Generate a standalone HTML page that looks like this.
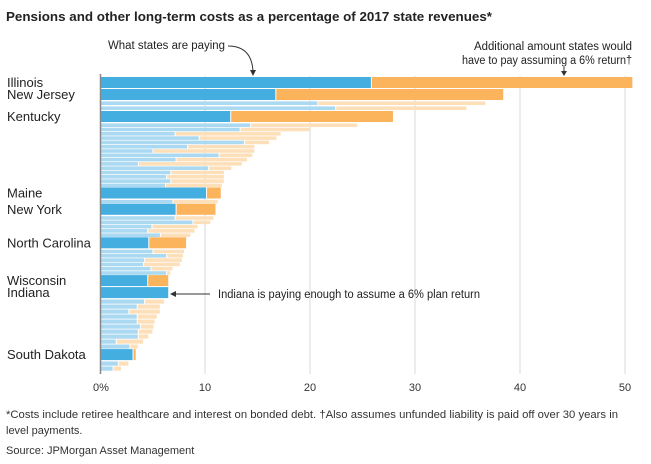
<!DOCTYPE html>
<html><head><meta charset="utf-8"><style>
body{margin:0;background:#fff;width:651px;height:464px;overflow:hidden;font-family:"Liberation Sans",sans-serif}
svg{display:block}
</style></head><body>
<svg id="chart" width="651" height="464" viewBox="0 0 651 464">
<text x="6" y="21" font-size="12.5" font-weight="bold" fill="#222" textLength="486" lengthAdjust="spacingAndGlyphs">Pensions and other long-term costs as a percentage of 2017 state revenues*</text>
<g id="grid"></g>
<g id="bars"></g>
<line x1="100.5" y1="74" x2="100.5" y2="374" stroke="#888" stroke-width="1.5"/>
<g id="labels" font-size="13" fill="#222"></g>
<g id="ticks" font-size="11" fill="#333" text-anchor="middle"></g>
<g font-size="11.5" fill="#222">
<text x="108" y="49" textLength="117" lengthAdjust="spacingAndGlyphs">What states are paying</text>
<path d="M228 46 Q252 46 253 72" fill="none" stroke="#333" stroke-width="1"/>
<path d="M250 70 L253 76 L256 70 Z" fill="#333"/>
</g>
<g font-size="11.5" fill="#222" text-anchor="end">
<text x="632" y="50" textLength="158" lengthAdjust="spacingAndGlyphs">Additional amount states would</text>
<text x="632" y="64" textLength="170" lengthAdjust="spacingAndGlyphs">have to pay assuming a 6% return†</text>
<line x1="564" y1="67" x2="564" y2="72" stroke="#333"/>
<path d="M561 71 L564 76 L567 71 Z" fill="#333"/>
</g>
<g font-size="11.5" fill="#222">
<text x="218" y="298" textLength="262" lengthAdjust="spacingAndGlyphs">Indiana is paying enough to assume a 6% plan return</text>
<line x1="210" y1="294" x2="174" y2="294" stroke="#333"/>
<path d="M176 291 L170 294 L176 297 Z" fill="#333"/>
</g>
<g font-size="11" fill="#333">
<text x="6" y="418" textLength="612" lengthAdjust="spacingAndGlyphs">*Costs include retiree healthcare and interest on bonded debt.  †Also assumes unfunded liability is paid off over 30 years in</text>
<text x="6" y="434">level payments.</text>
<text x="6" y="454">Source: JPMorgan Asset Management</text>
</g>
</svg>
<script>
const states=["Illinois","New Jersey","s3","s4","Kentucky","s6","s7","s8","s9","s10","s11","s12","s13","s14","s15","s16","s17","s18","s19","s20","Maine","s22","New York","s24","s25","s26","s27","s28","North Carolina","s30","s31","s32","s33","s34","s35","Wisconsin","Indiana","s38","s39","s40","s41","s42","s43","s44","s45","s46","s47","South Dakota","s49","s50"];
const highlighted=[1,1,0,0,1,0,0,0,0,0,0,0,0,0,0,0,0,0,0,0,1,0,1,0,0,0,0,0,1,0,0,0,0,0,0,1,1,0,0,0,0,0,0,0,0,0,0,1,0,0];
const paying=[25.8,16.7,20.7,22.4,12.4,14.3,13.3,7.1,9.4,13.7,8.3,5.0,11.3,7.2,3.6,10.3,6.7,6.3,6.7,6.2,10.1,6.9,7.2,7.1,8.8,4.9,4.5,5.7,4.6,5.0,6.3,4.2,4.1,4.8,6.3,4.5,6.5,4.2,3.5,2.7,3.5,3.5,3.8,3.6,3.6,1.5,2.8,3.1,1.7,1.2];
const total=[50.7,38.4,36.7,34.9,27.9,24.5,20.0,17.2,16.8,16.1,14.7,14.7,14.5,14.0,13.5,12.5,11.8,11.8,11.8,11.6,11.5,11.2,11.0,10.8,10.5,9.3,9.0,8.6,8.2,8.0,7.9,7.8,7.6,6.9,6.7,6.5,6.5,6.1,5.7,5.7,5.4,5.2,5.1,5.0,4.6,4.1,3.6,3.4,2.7,2.0];
const tickVals=[0,10,20,30,40,50];
const tickLabels=["0%","10","20","30","40","50"];
const NS="http://www.w3.org/2000/svg";
const x=v=>100+v*10.5;
function mk(tag,attrs,parent){const e=document.createElementNS(NS,tag);for(const k in attrs)e.setAttribute(k,attrs[k]);parent.appendChild(e);return e;}
const grid=document.getElementById('grid'),bars=document.getElementById('bars'),labels=document.getElementById('labels'),ticks=document.getElementById('ticks');
tickVals.forEach((t,i)=>{
 if(t>0){const g=mk('line',{x1:x(t),x2:x(t),y1:76,y2:374,stroke:'#e6e6e6','stroke-width':1.5},grid);
 
 }
 const tx=mk('text',{x:x(t)+(i==0?1:0),y:391},ticks);tx.textContent=tickLabels[i];
 
 
});
let y=77;
states.forEach((s,i)=>{
 const h=highlighted[i];
 const thinPitch=i>36?5.0:(i<4?5:4.3);
 const bh=h?11:(i>36?4.2:3.6);const pitch=h?12:thinPitch;
 const top=h?y:y+0.4;
 const b=mk('rect',{x:x(0),y:top,width:x(paying[i])-x(0),height:bh,fill:h?'#44aee0':'#aad9f1'},bars);
 
 
 const o=mk('rect',{x:x(paying[i])+1,y:top,width:Math.max(0,x(total[i])-x(paying[i])-1),height:bh,fill:h?'#fbb45c':'#fde0ba'},bars);
 
 
 if(h){const l=mk('text',{x:7,y:top+10},labels);l.textContent=s;
 
 }
 y+=pitch;
});
</script>
</body></html>
